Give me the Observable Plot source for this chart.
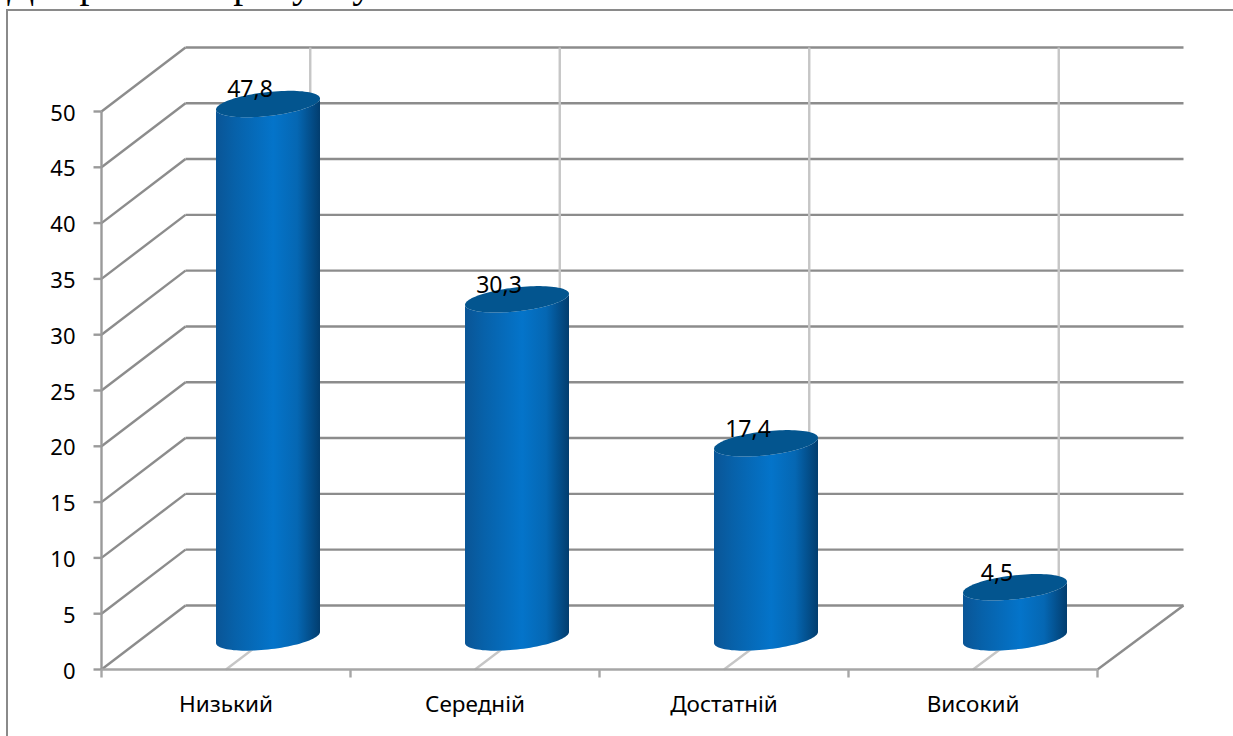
<!DOCTYPE html>
<html>
<head>
<meta charset="utf-8">
<script src="https://cdn.jsdelivr.net/npm/d3@7"></script>
<script src="https://cdn.jsdelivr.net/npm/@observablehq/plot@0.6"></script>
<style>
  html, body { margin: 0; padding: 0; background: #fff; overflow: hidden; }
  #page { position: relative; width: 1233px; height: 736px; overflow: hidden; }
  #page svg { display: block; position: absolute; left: 0; top: 0; }
  #heading { position: absolute; left: 7px; top: -36px; font: 40px/40px "Liberation Serif", serif; word-spacing: 7px; color: #000; white-space: nowrap; z-index: 0; }
  #border { position: absolute; left: 6px; top: 9px; width: 1240px; height: 740px; border: 2px solid #8a8a8a; z-index: 2; pointer-events: none; }
</style>
</head>
<body>
<div id="page">
  <div id="chart"></div>
  <div id="heading"></div>
  <div id="border"></div>
</div>
<script>
const categories = ["Низький", "Середній", "Достатній", "Високий"];
const values = [47.8, 30.3, 17.4, 4.5];
const valueLabels = ["47,8", "30,3", "17,4", "4,5"];
const yTicks = [0, 5, 10, 15, 20, 25, 30, 35, 40, 45, 50];
const heading = "Діаграма на рисунку 3.3.";

// Oblique depth of the chart box, expressed in scale units (x: categories, y: percent).
const depthX = 84 / 249;
const depthY = 64 / 11.15;
const backX = d => depthX + d * (249.5 / 249);
const rows = categories.map((c, i) => ({c, i, v: values[i], label: valueLabels[i]}));
const slots = d3.range(categories.length);
const edges = d3.range(categories.length + 1);

// A cylinder sits half way into the box; its cap is a sheared ellipse.
const radiusX = 52 / 249, shearY = 5.5 / 11.15, radiusY = 12 / 11.15;
const baseLift = 32 / 11.15;
const cx = i => i + 0.5 + depthX / 2;
const capPoint = (i, level, t) => ({
  x: cx(i) + radiusX * Math.cos(t),
  y: level + baseLift + shearY * Math.cos(t) - radiusY * Math.sin(t),
  i
});
const angles = (from, to, n = 48) => d3.range(n + 1).map(k => from + (to - from) * k / n);

const bodyOutline = rows.flatMap(r => [
  ...angles(Math.PI, 0).map(t => capPoint(r.i, 0, t)),
  ...angles(0, Math.PI).map(t => capPoint(r.i, r.v, t))
]);
const capOutline = rows.flatMap(r => angles(0, 2 * Math.PI, 96).map(t => capPoint(r.i, r.v, t)));

const frameLine = "#8c8c8c";
const softLine = "#c6c6c6";
const labelFont = "'Noto Sans', sans-serif";
const lineWidth = 2.4;

const gradientDefs = () => {
  const ns = "http://www.w3.org/2000/svg";
  const defs = document.createElementNS(ns, "defs");
  const g = document.createElementNS(ns, "linearGradient");
  g.setAttribute("id", "cylinderSide");
  [["0%", "#0a5596"], ["18%", "#0761a9"], ["55%", "#0474ca"], ["78%", "#0567b3"], ["100%", "#023d6e"]]
    .forEach(([offset, color]) => {
      const s = document.createElementNS(ns, "stop");
      s.setAttribute("offset", offset);
      s.setAttribute("stop-color", color);
      g.appendChild(s);
    });
  defs.appendChild(g);
  return defs;
};

const chart = Plot.plot({
  width: 1233,
  height: 736,
  marginLeft: 101,
  marginRight: 136,
  marginTop: 111,
  marginBottom: 67,
  style: {background: "transparent", color: "#000", fontFamily: labelFont},
  x: {type: "linear", domain: [0, 4], axis: null},
  y: {type: "linear", domain: [0, 50], axis: null},
  marks: [
    gradientDefs,
    // side wall
    Plot.link(yTicks, {
      x1: () => 0, y1: d => d, x2: () => depthX, y2: d => d + depthY,
      stroke: frameLine, strokeWidth: lineWidth
    }),
    // back wall and floor edge
    Plot.link(yTicks, {
      x1: () => depthX, y1: d => d + depthY, x2: () => backX(4), y2: d => d + depthY,
      stroke: frameLine, strokeWidth: lineWidth
    }),
    // vertical back-wall grid at each category centre
    Plot.link(slots, {
      x1: d => backX(d + 0.5), y1: () => depthY, x2: d => backX(d + 0.5), y2: () => 50 + depthY,
      stroke: softLine, strokeWidth: lineWidth
    }),
    // floor grid
    Plot.link(slots, {
      x1: d => d + 0.5, y1: () => 0, x2: d => backX(d + 0.5), y2: () => depthY,
      stroke: softLine, strokeWidth: lineWidth
    }),
    // right edge of the floor
    Plot.link([4], {
      x1: d => d, y1: () => 0, x2: d => backX(d), y2: () => depthY,
      stroke: frameLine, strokeWidth: lineWidth
    }),
    // front axes and their ticks
    Plot.link([0], {x1: () => 0, y1: () => 0, x2: () => 0, y2: () => 50, stroke: "#9a9a9a", strokeWidth: lineWidth}),
    Plot.link([0], {x1: () => 0, y1: () => 0, x2: () => 4, y2: () => 0, stroke: "#a6a6a6", strokeWidth: lineWidth}),
    Plot.link(yTicks, {x1: () => -8 / 249, y1: d => d, x2: () => 0, y2: d => d, stroke: "#9a9a9a", strokeWidth: lineWidth}),
    Plot.link(edges, {x1: d => d, y1: () => 0, x2: d => d, y2: () => -8 / 11.15, stroke: "#a6a6a6", strokeWidth: lineWidth}),
    // cylinders
    Plot.line(bodyOutline, {x: "x", y: "y", z: "i", fill: "url(#cylinderSide)", stroke: "none"}),
    Plot.line(capOutline, {x: "x", y: "y", z: "i", fill: "#03558f", stroke: "none"}),
    Plot.text(rows, {
      x: d => cx(d.i), y: d => d.v + baseLift, text: "label",
      dx: -18, dy: -14, fontSize: 23, fill: "#000"
    }),
    // axis labels
    Plot.text(yTicks, {
      x: () => 0, y: d => d, text: d => String(d),
      textAnchor: "end", dx: -26, dy: 2, fontSize: 22, fill: "#000"
    }),
    Plot.text(rows, {
      x: d => d.i + 0.5, y: () => 0, text: "c",
      dy: 35, fontSize: 22.5, fill: "#000"
    })
  ]
});
document.getElementById("chart").appendChild(chart);
document.getElementById("heading").textContent = heading;
</script>
</body>
</html>
